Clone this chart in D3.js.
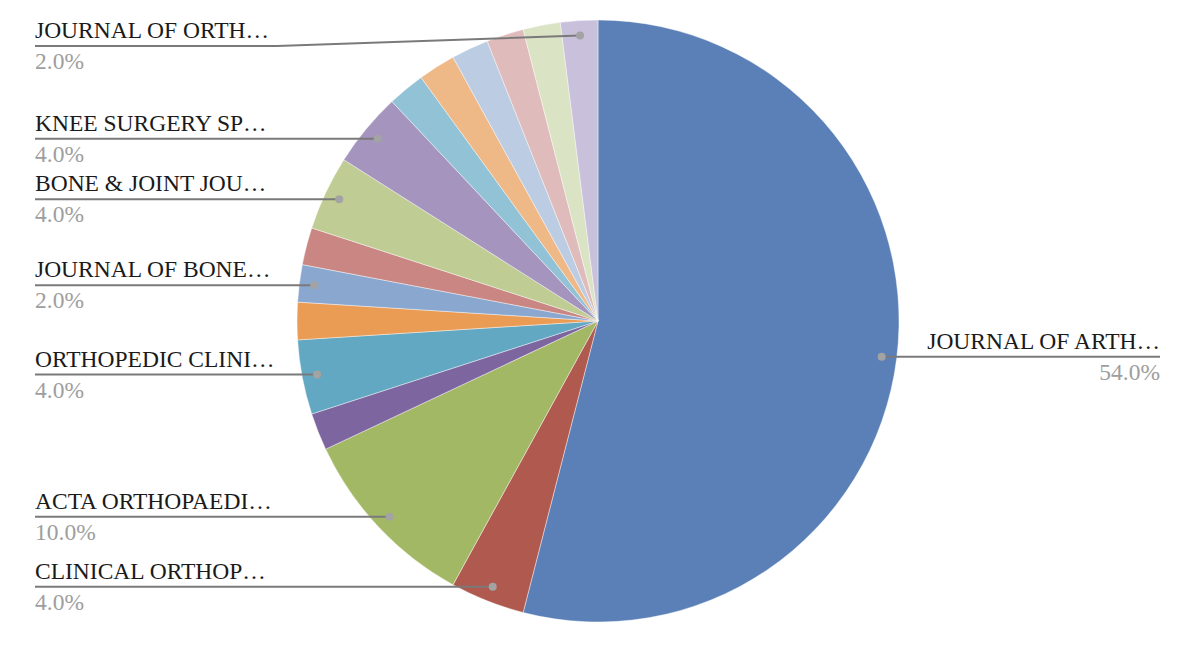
<!DOCTYPE html>
<html>
<head>
<meta charset="utf-8">
<script src="https://cdn.jsdelivr.net/npm/d3@7"></script>
<style>
  html, body { margin: 0; padding: 0; background: #ffffff; }
  svg { display: block; }
</style>
</head>
<body>
<svg id="chart" width="1190" height="648"></svg>
<script>
// ---- data (clockwise from 12 o'clock) ----
const categories = [
  "JOURNAL OF ARTH…", "CLINICAL ORTHOP…", "ACTA ORTHOPAEDI…", "",
  "ORTHOPEDIC CLINI…", "", "JOURNAL OF BONE…", "",
  "BONE & JOINT JOU…", "KNEE SURGERY SP…", "", "",
  "", "", "", "JOURNAL OF ORTH…"
];
const values = [54, 4, 10, 2, 4, 2, 2, 2, 4, 4, 2, 2, 2, 2, 2, 2];
const colors = [
  "#5A80B7", "#B0594F", "#A3B865", "#7D66A0",
  "#63A8C2", "#EA9C54", "#8AA7CF", "#C98683",
  "#BFCD94", "#A594BE", "#92C2D6", "#EFB887",
  "#BCCCE3", "#DFBCBB", "#DAE3C3", "#C9C1DB"
];

const svg = d3.select("#chart");
const cx = 598, cy = 321, R = 301;
const total = d3.sum(values);
const fmt = v => (v / total * 100).toFixed(1) + "%";
const FONT = "'Liberation Serif'";

const data = values.map((v, i) => ({ name: categories[i], value: v, color: colors[i] }));
const pie = d3.pie().sort(null).value(d => d.value).startAngle(0).endAngle(2 * Math.PI);
const arcs = pie(data);
const arc = d3.arc().innerRadius(0).outerRadius(R);

const g = svg.append("g").attr("transform", `translate(${cx},${cy})`);
g.selectAll("path.slice").data(arcs).enter().append("path")
  .attr("class", "slice")
  .attr("d", arc)
  .attr("fill", d => d.data.color)
  .attr("stroke", "#ffffff")
  .attr("stroke-width", 0.6)
  .attr("stroke-opacity", 0.7);

// ---- labels ----
const leftX = 35, rightX = 1160, minLineY = 46;
const labelG = svg.append("g");
arcs.forEach(d => {
  if (!d.data.name) return;
  const mid = (d.startAngle + d.endAngle) / 2;
  const px = cx + Math.sin(mid) * R * 0.95;
  const py = cy - Math.cos(mid) * R * 0.95;
  const isRight = px > cx;
  const lineY = Math.max(py, minLineY);

  const t = labelG.append("text")
    .attr("x", isRight ? rightX : leftX)
    .attr("y", lineY - 8)
    .attr("text-anchor", isRight ? "end" : "start")
    .attr("font-family", FONT)
    .attr("font-size", 23.5)
    .attr("fill", "#1a1a1a")
    .text(d.data.name);
  const bb = t.node().getBBox();

  labelG.append("text")
    .attr("x", isRight ? rightX : leftX)
    .attr("y", lineY + 23)
    .attr("text-anchor", isRight ? "end" : "start")
    .attr("font-family", FONT)
    .attr("font-size", 23.5)
    .attr("fill", "#9e9e9e")
    .text(fmt(d.data.value));

  let pts;
  if (isRight) {
    pts = Math.abs(py - lineY) > 0.5 ? [[px, py], [bb.x - 8, lineY], [rightX, lineY]] : [[px, py], [rightX, lineY]];
  } else {
    const bend = bb.x + bb.width + 8;
    pts = Math.abs(py - lineY) > 0.5 ? [[leftX, lineY], [bend, lineY], [px, py]] : [[leftX, lineY], [px, py]];
  }
  labelG.append("path")
    .attr("d", d3.line()(pts))
    .attr("fill", "none")
    .attr("stroke", "#7a7a7a")
    .attr("stroke-width", 2);
  labelG.append("circle")
    .attr("cx", px).attr("cy", py).attr("r", 4)
    .attr("fill", "#a3a3a3");
});
</script>
</body>
</html>
